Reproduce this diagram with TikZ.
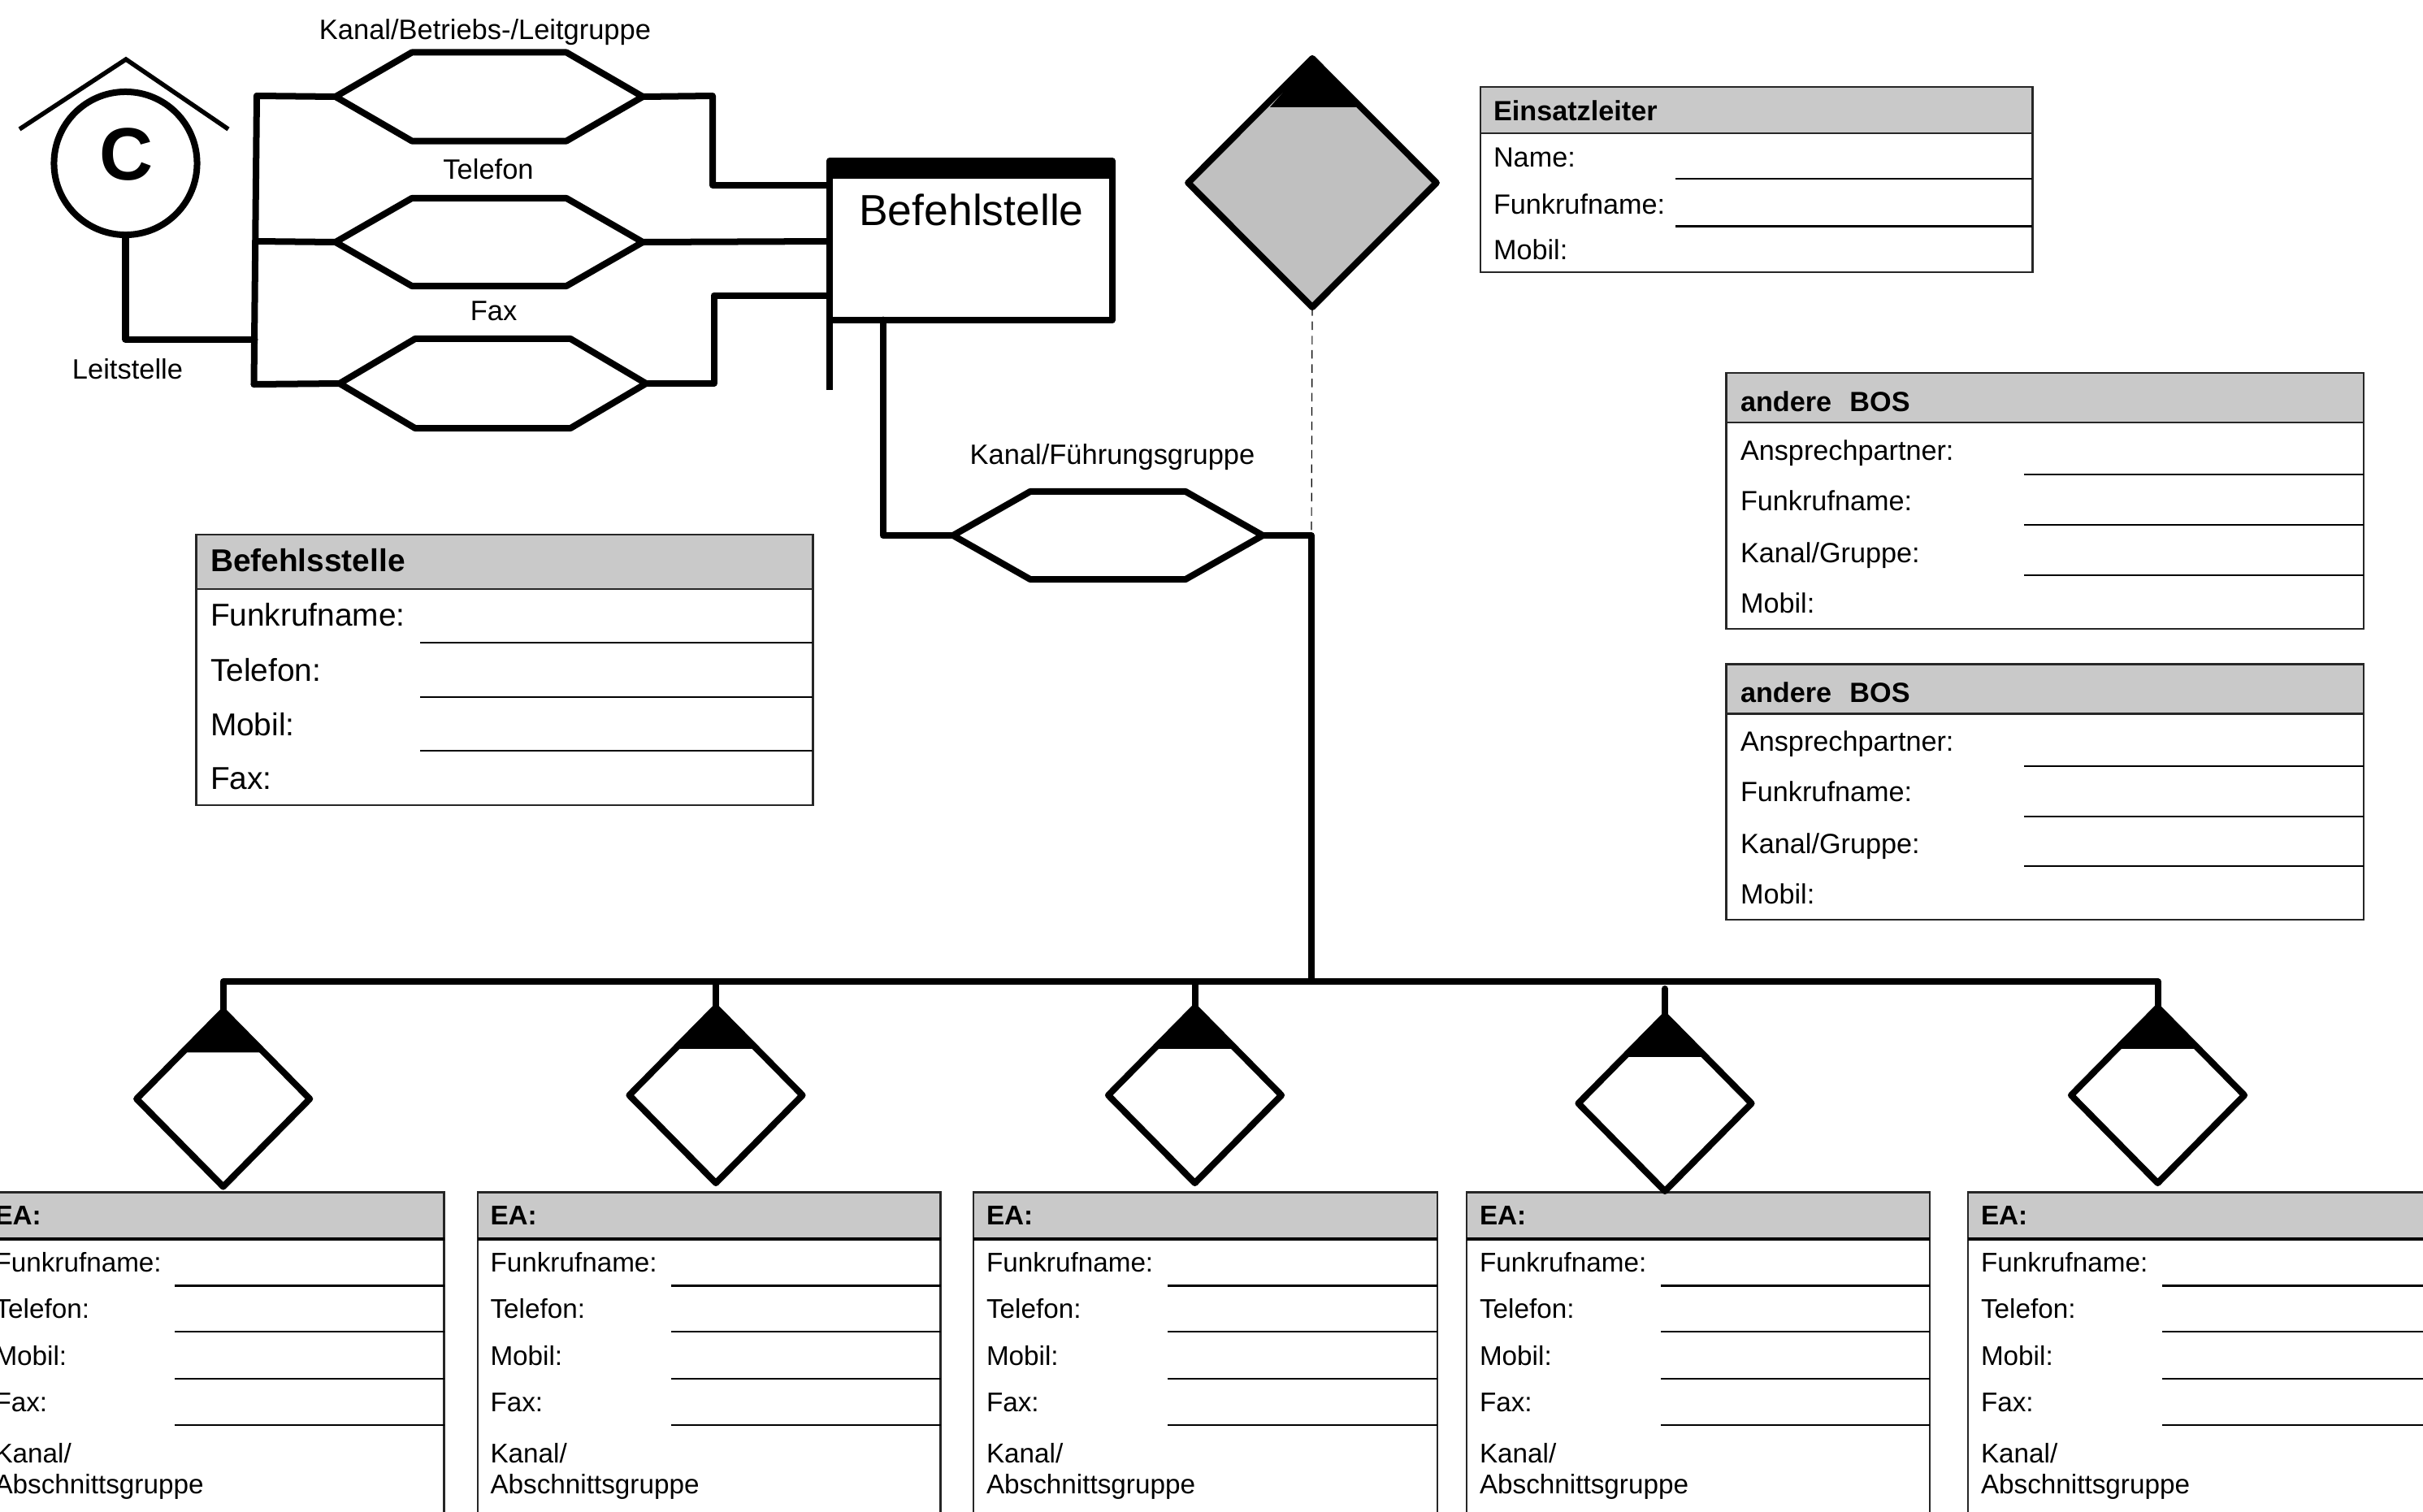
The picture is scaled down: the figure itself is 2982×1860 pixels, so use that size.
\documentclass[tikz,border=0pt]{standalone}
\usepackage{fontspec}
\setmainfont{Liberation Sans}
\usetikzlibrary{calc,shapes.geometric}
\definecolor{hdr}{HTML}{C9C9C9}
\definecolor{dgray}{HTML}{C0C0C0}
\definecolor{frame}{HTML}{262626}
\newcommand\fs[1]{\fontsize{#1}{#1}\selectfont}
\tikzset{
  heavy/.style={line width=0.08cm,line join=round,line cap=round,black},
  hexbox/.style={rectangle,inner sep=0pt,outer sep=0pt},
  dia/.style={diamond,draw,line width=0.08cm,line join=round,fill=white,inner sep=0pt,outer sep=0pt,minimum width=2.13cm,minimum height=2.16cm},
  hdrbox/.style={rectangle,draw=frame,fill=hdr,line width=0.022cm,inner sep=0pt,outer sep=0pt,anchor=north west},
  framebox/.style={rectangle,draw=frame,fill=white,line width=0.022cm,inner sep=0pt,outer sep=0pt,anchor=north west},
  fld/.style={line width=0.028cm,black},
  lbl/.style={inner sep=0pt,outer sep=0pt,anchor=mid,yshift=-0.02cm},
  tx/.style={inner sep=0pt,outer sep=0pt,anchor=mid west,yshift=-0.02cm},
  eatx/.style={tx,font=\fs{9.46}},
  eahd/.style={tx,font=\fs{9.46}\bfseries},
  bostx/.style={tx,font=\fs{9.73}},
  boshd/.style={tx,font=\fs{9.73}\bfseries},
  bstx/.style={tx,yshift=-0.02cm,font=\fs{11.05}},
  bshd/.style={tx,yshift=-0.02cm,font=\fs{11.05}\bfseries},
  toplbl/.style={lbl,font=\fs{9.8}},
}
% hexagon: name, cx, cy, w(cm), h(cm), chamfer
\newcommand\hexnode[6]{%
  \node[hexbox,minimum width=#4cm,minimum height=#5cm] (#1) at (#2,#3) {};
  \draw[heavy] (#1.west) -- ($(#1.north west)+(#6,0)$) -- ($(#1.north east)+(-#6,0)$) -- (#1.east)
     -- ($(#1.south east)+(-#6,0)$) -- ($(#1.south west)+(#6,0)$) -- cycle;
}
% small diamond with black tip: name, cx, cy, tip height
\newcommand\sdia[4]{%
  \node[dia] (#1) at (#2,#3) {};
  \fill[black] (#1.north) -- ($(#1.north)+(-50,#4)$) -- ($(#1.north)+(50,#4)$) -- cycle;
}
% EA table: name, left, text x, line x, right
\newcommand\eatable[5]{%
  \node[framebox,minimum width={(#5-(#2))*0.01cm},minimum height=3.95cm] (#1f) at (#2,1525) {};
  \node[hdrbox,minimum width={(#5-(#2))*0.01cm},minimum height=0.575cm] (#1h) at (#2,1467.5) {};
  \draw[line width=0.035cm,black] (#1h.south west) -- (#1h.south east);
  \node[eahd] (#1a) at (#3,1496.6) {EA:};
  \node[eatx] (#1b) at (#3,1554) {Funkrufname:};
  \node[eatx] (#1c) at (#3,1611.5) {Telefon:};
  \node[eatx] (#1d) at (#3,1669) {Mobil:};
  \node[eatx] (#1e) at (#3,1726) {Fax:};
  \node[eatx] (#1k) at (#3,1789) {Kanal/};
  \node[eatx] (#1l) at (#3,1827) {Abschnittsgruppe};
  \foreach \yy in {1582.5,1639,1697,1754} \draw[fld] (#4,\yy) -- (#5,\yy);
}
% BOS table: name, y-offset
\newcommand\bostable[2]{%
  \pgfmathsetmacro\oo{#2}
  \node[framebox,minimum width=7.84cm,minimum height=2.535cm] (#1f) at (2124.5,520+\oo) {};
  \node[hdrbox,minimum width=7.84cm,minimum height=0.61cm] (#1h) at (2124.5,459+\oo) {};
  \node[boshd] (#1a) at (2142,494.7+\oo) {andere\hspace{0.65em}BOS};
  \node[bostx] (#1b) at (2142,555+\oo) {Ansprechpartner:};
  \node[bostx] (#1c) at (2142,617+\oo) {Funkrufname:};
  \node[bostx] (#1d) at (2142,681+\oo) {Kanal/Gruppe:};
  \node[bostx] (#1e) at (2142,743+\oo) {Mobil:};
  \foreach \yy in {584,646,707.5} \draw[fld,line width=0.02cm] (2491,\yy+\oo) -- (2908.5,\yy+\oo);
}
\begin{document}
\begin{tikzpicture}[x=0.01cm,y=-0.01cm]
\useasboundingbox (0,0) rectangle (2982,1860);
\clip (0,0) rectangle (2982,1860);

% Leitstelle
\node[circle,draw,line width=0.08cm,minimum size=1.76cm,inner sep=0pt,outer sep=0pt] (lst) at (154.5,201) {};
\node[lbl,font=\fs{26}\bfseries] (cl) at (155.5,210) {C};
\coordinate (roofL) at (24,159);
\coordinate (roofT) at (155,73);
\coordinate (roofR) at (281,159);
\draw[line width=0.055cm,line join=miter,black] (roofL) -- (roofT) -- (roofR);
\node[toplbl] (lstl) at (157,455.6) {Leitstelle};

% Hexagons
\hexnode{hA}{602}{119}{3.78}{1.09}{94}
\hexnode{hB}{602}{298}{3.78}{1.08}{94}
\hexnode{hC}{606.5}{472}{3.77}{1.10}{93}
\hexnode{hD}{1363.5}{659}{3.81}{1.08}{95}
\node[toplbl] (hAl) at (597,37) {Kanal/Betriebs-/Leitgruppe};
\node[toplbl] (hBl) at (601,209) {Telefon};
\node[toplbl] (hCl) at (607.5,383) {Fax};
\node[toplbl] (hDl) at (1369,560) {Kanal/Führungsgruppe};

% Befehlstelle
\node[rectangle,draw,heavy,line cap=butt,minimum width=3.475cm,minimum height=1.96cm,inner sep=0pt,outer sep=0pt,anchor=north west] (bs) at (1021,198) {};
\fill[black] (bs.north west) rectangle ($(bs.north east)+(0,22)$);
\node[lbl,font=\fs{15.2}] (bsl) at (1195.5,266) {Befehlstelle};

% bus left of the hexagons
\coordinate (vT) at (316,118);
\coordinate (vB) at (312.5,473);
\coordinate (vL) at (313.5,418);
\coordinate (vM) at (315,297);
\draw[heavy] (vT) -- (vB);
\draw[heavy] (lst.south) |- (vL);
\draw[heavy] (vT) -- (hA.west);
\draw[heavy] (vM) -- (hB.west);
\draw[heavy] (vB) -- (hC.west);

% to Befehlstelle
\coordinate (bsA) at (1021,228);
\coordinate (bsB) at (1021,297);
\coordinate (bsC) at (1021,363.5);
\coordinate (bsD) at (1021,480);
\coordinate (bsE) at (1086.5,393.6);
\draw[heavy] (hA.east) -- (877,118) -- (877,228) -- (bsA);
\draw[heavy] (hB.east) -- (bsB);
\draw[heavy] (hC.east) -- (878.5,472) -- (878.5,363.5) -- (bsC);
\draw[heavy,line cap=butt] (bs.south west) -- (bsD);
\draw[heavy] (bsE) |- (hD.west);

% Einsatzleiter diamond
\node[dia,fill=dgray,minimum width=3.055cm,minimum height=3.06cm] (ld) at (1615,225) {};
\fill[black] (ld.north) -- ($(ld.north)+(-52,60)$) -- ($(ld.north)+(58,60)$) -- cycle;
\coordinate (jn) at (1614,659);
\coordinate (jb) at (1614,1208);
\draw[line width=0.012cm,densely dashed,black] (ld.south) -- (jn);
\draw[heavy] (hD.east) -- (jn) -- (jb);

% Einsatzleiter table
\node[framebox,minimum width=6.79cm,minimum height=1.71cm] (elf) at (1822,164) {};
\node[hdrbox,minimum width=6.79cm,minimum height=0.57cm] (elh) at (1822,107) {};
\node[boshd] (ela) at (1838,137) {Einsatzleiter};
\node[bostx] (elb) at (1838,194) {Name:};
\node[bostx] (elc) at (1838,252) {Funkrufname:};
\node[bostx] (eld) at (1838,308) {Mobil:};
\draw[fld] (2062,220) -- (2501,220);
\draw[fld] (2062,278.5) -- (2501,278.5);

% andere BOS tables
\bostable{bA}{0}
\bostable{bB}{358.5}

% Befehlsstelle table
\node[framebox,minimum width=7.585cm,minimum height=2.664cm] (stf) at (241.5,724.6) {};
\node[hdrbox,minimum width=7.585cm,minimum height=0.666cm] (sth) at (241.5,658) {};
\node[bshd] (sta) at (259,690) {Befehlsstelle};
\node[bstx] (stb) at (259,757) {Funkrufname:};
\node[bstx] (stc) at (259,825) {Telefon:};
\node[bstx] (std) at (259,892) {Mobil:};
\node[bstx] (ste) at (259,958) {Fax:};
\draw[fld] (517,791) -- (1000,791);
\draw[fld] (517,858) -- (1000,858);
\draw[fld] (517,924) -- (1000,924);

% EA tables
\eatable{eA}{-22.5}{-6.5}{215}{546.5}
\eatable{eB}{588}{603.5}{826}{1157.5}
\eatable{eC}{1198}{1214}{1437}{1769}
\eatable{eD}{1805}{1821}{2044}{2375}
\eatable{eE}{2422}{2438}{2661}{2992}

% EA diamonds
\sdia{dA}{274.7}{1352.5}{51}
\sdia{dB}{881}{1348}{51}
\sdia{dC}{1470.5}{1348}{51}
\sdia{dD}{2049}{1358}{51}
\sdia{dE}{2655.5}{1348}{51}

% bus to the EA diamonds
\coordinate (dDtop) at (2049,1217);
\draw[heavy] (dA.north) -- (dA.north |- jb) -- (dE.north |- jb) -- (dE.north);
\draw[heavy] (dB.north |- jb) -- (dB.north);
\draw[heavy] (dC.north |- jb) -- (dC.north);
\draw[heavy] (dDtop) -- (dD.north);
\end{tikzpicture}
\end{document}
